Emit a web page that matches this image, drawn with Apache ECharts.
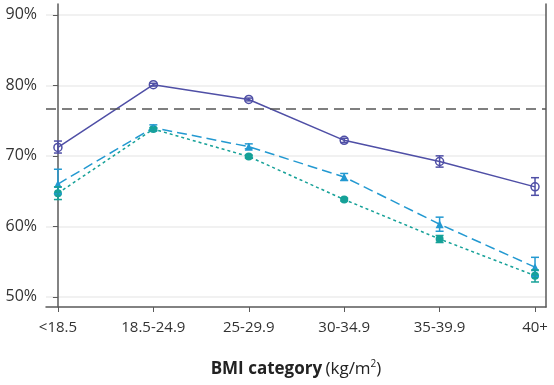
<!DOCTYPE html>
<html><head><meta charset="utf-8">
<script src="https://cdn.jsdelivr.net/npm/echarts@6/dist/echarts.min.js"></script>
<style>html,body{margin:0;padding:0;background:#fff}#c{width:554px;height:385px}</style>
</head><body><div id="c"></div>
<script>
const categories = ['<18.5','18.5-24.9','25-29.9','30-34.9','35-39.9','40+'];
const yTicks = [50, 60, 70, 80, 90];
const referenceValue = 76.7;
const series1 = [71.2, 80.1, 78.0, 72.2, 69.2, 65.6];
const series1Low = [70.4, 79.9, 77.8, 71.9, 68.4, 64.4];
const series1High = [72.1, 80.3, 78.2, 72.5, 70.0, 66.9];
const series2 = [66.0, 74.0, 71.3, 67.0, 60.3, 54.2];
const series2Low = [64.6, 73.6, 71.0, 66.5, 59.3, 52.9];
const series2High = [68.1, 74.4, 71.7, 67.5, 61.3, 55.6];
const series3 = [64.7, 73.8, 69.9, 63.8, 58.2, 53.0];
const series3Low = [63.8, 73.6, 69.7, 63.6, 57.7, 52.1];
const series3High = [65.6, 74.0, 70.1, 64.0, 58.7, 53.8];

const c1 = '#4f4fa6', c2 = '#2399d1', c3 = '#16a198';
const xs = categories.map((_, i) => i);

function errSeries(low, high, color) {
  return {
    type: 'custom', z: 5,
    data: xs.map(i => [i, low[i], high[i]]),
    renderItem: function (params, api) {
      const x = api.value(0);
      const lo = api.coord([x, api.value(1)]);
      const hi = api.coord([x, api.value(2)]);
      const w = 4;
      const st = { stroke: color, lineWidth: 1.5 };
      return { type: 'group', children: [
        { type: 'line', shape: { x1: lo[0], y1: lo[1], x2: hi[0], y2: hi[1] }, style: st },
        { type: 'line', shape: { x1: lo[0]-w, y1: lo[1], x2: lo[0]+w, y2: lo[1] }, style: st },
        { type: 'line', shape: { x1: hi[0]-w, y1: hi[1], x2: hi[0]+w, y2: hi[1] }, style: st }
      ]};
    }
  };
}

const chart = echarts.init(document.getElementById('c'), null, { renderer: 'canvas' });
const axisCol = '#5a5a5a';
chart.setOption({
  animation: false,
  grid: { left: 46, right: 8, top: 4, bottom: 78 },
  xAxis: {
    type: 'value', min: -0.125, max: 5.115,
    axisLine: { show: true, onZero: false, lineStyle: { color: axisCol, width: 1.5 } },
    axisTick: { show: true, length: 5, customValues: xs, lineStyle: { color: axisCol } },
    axisLabel: { customValues: xs, formatter: v => categories[Math.round(v)], color: '#333', fontSize: 15, fontFamily: 'Open Sans', margin: 13 },
    splitLine: { show: false },
    name: '{b|BMI category} {n|(kg/m}{s|2}{n|)}',
    nameLocation: 'middle', nameGap: 52,
    nameTextStyle: {
      rich: {
        b: { fontSize: 17, fontWeight: 'bold', fontFamily: 'Open Sans', color: '#222' },
        n: { fontSize: 17, fontFamily: 'Open Sans', color: '#222' },
        s: { fontSize: 10, fontFamily: 'Open Sans', color: '#222', verticalAlign: 'top', padding: [0, 0, 10, 0] }
      }
    }
  },
  yAxis: [{
    type: 'value', min: 48.55, max: 91.55,
    axisLine: { show: true, lineStyle: { color: axisCol, width: 1.5 } },
    axisTick: { show: true, length: 5, customValues: yTicks, lineStyle: { color: axisCol } },
    axisLabel: { customValues: yTicks, formatter: v => Math.round(v) + '%', color: '#333', fontSize: 16, fontFamily: 'Open Sans', margin: 9 },
    splitLine: { show: true, lineStyle: { color: '#ececec', width: 1.5 } }
  }, {
    type: 'value', min: 48.55, max: 91.55, position: 'right',
    axisLine: { show: true, lineStyle: { color: axisCol, width: 1.5 } },
    axisTick: { show: false }, axisLabel: { show: false }, splitLine: { show: false }
  }],
  series: [
    errSeries(series1Low, series1High, c1),
    errSeries(series2Low, series2High, c2),
    errSeries(series3Low, series3High, c3),
    {
      type: 'line', data: xs.map(i => [i, series1[i]]), z: 4,
      lineStyle: { color: c1, width: 1.5 }, itemStyle: { color: 'rgba(255,255,255,0)', borderColor: c1, borderWidth: 1.5 },
      symbol: 'circle', symbolSize: 8, showSymbol: true,
      markLine: { silent: true, symbol: 'none', label: { show: false },
        lineStyle: { color: '#555', type: [10, 6], width: 1.5 },
        data: [{ yAxis: referenceValue }] }
    },
    {
      type: 'line', data: xs.map(i => [i, series2[i]]), z: 4,
      lineStyle: { color: c2, width: 1.5, type: [10, 5] }, itemStyle: { color: c2 },
      symbol: 'triangle', symbolSize: 8
    },
    {
      type: 'line', data: xs.map(i => [i, series3[i]]), z: 4,
      lineStyle: { color: c3, width: 1.5, type: [3, 3] }, itemStyle: { color: c3 },
      symbol: 'circle', symbolSize: 8
    }
  ]
});
</script></body></html>
